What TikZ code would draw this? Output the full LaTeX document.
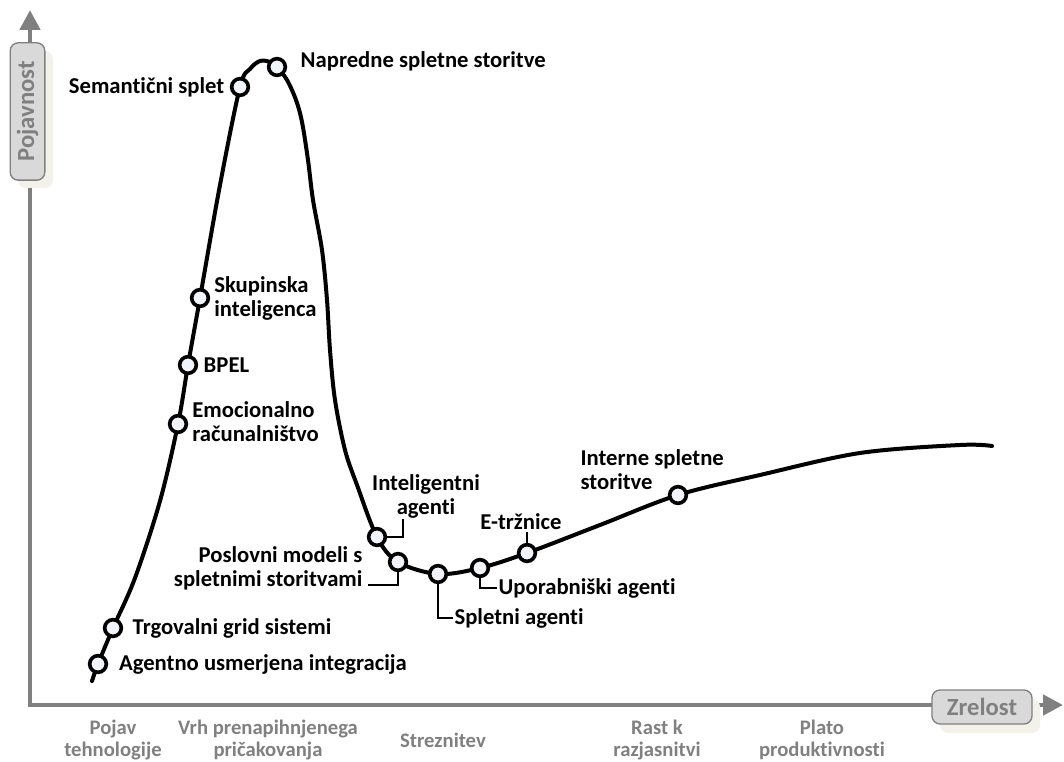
\documentclass[tikz,border=0pt]{standalone}
\usepackage{fontspec}
\setmainfont{Carlito}[Ligatures=NoCommon]
\usepackage{tikz}
\usetikzlibrary{arrows.meta,positioning}
\definecolor{osgray}{HTML}{808080}
\definecolor{boxfill}{HTML}{D9D9D9}
\definecolor{senca}{HTML}{F2F2EA}
\definecolor{tockafill}{HTML}{F2F4FB}
\tikzstyle{krivulja} = [line width=3pt, line cap=round, line join=round]
\tikzstyle{tocka} = [circle, draw=black, fill=tockafill, line width=2.7pt, minimum size=12.5pt, inner sep=0pt]
\tikzstyle{oznaka} = [font=\fontsize{17}{18}\selectfont\bfseries, inner sep=1pt, align=left]
\tikzstyle{vodilo} = [line width=1.6pt]
\tikzstyle{faza} = [font=\fontsize{15.5}{16}\selectfont\bfseries, text=osgray, align=center]
\tikzstyle{os} = [draw=osgray, line width=3.5pt, line join=miter, {Triangle[length=15pt,width=15pt]}-{Triangle[length=15pt,width=15pt]}]
\tikzstyle{osbox} = [draw=osgray, fill=boxfill, line width=1pt, rounded corners=6pt, text=osgray, font=\fontsize{18.5}{20}\selectfont\bfseries, inner sep=0pt]

\begin{document}
\begin{tikzpicture}[x=0.75pt, y=-0.75pt]
\useasboundingbox (0,0) rectangle (1064,762);

% osi
\coordinate (ytop) at (30,10);
\coordinate (O) at (30,705);
\coordinate (xend) at (1063,705);
\draw[os] (ytop) -- (O) -- (xend);
\fill[senca, rounded corners=6pt] (18,51) rectangle (53,188);
\fill[senca, rounded corners=6pt] (940,699) rectangle (1040,733);
\node[osbox, minimum width=103pt, minimum height=26pt, rotate=90] (pojavnost) at (27.5,111.5) {Pojavnost};
\node[osbox, minimum width=75pt, minimum height=25.5pt] (zrelost) at (982,707) {Zrelost};

% faze
\node[faza] (faza1) at (113,740) {Pojav\\tehnologije};
\node[faza] (faza2) at (268,740) {Vrh prenapihnjenega\\pričakovanja};
\node[faza] (faza3) at (443,740) {Streznitev};
\node[faza] (faza4) at (657,740) {Rast k\\razjasnitvi};
\node[faza] (faza5) at (822,740) {Plato\\produktivnosti};

% krivulja
\draw[krivulja] plot[smooth, tension=0.55] coordinates {
  (92,681) (98,664) (113,628) (135,578) (160,501) (178,424) (188,365)
  (200,298) (220,185) (240,87) (250,69) (260,61) (270,62) (277,67)
  (287,80) (296,100) (302,122) (308,160) (313,200) (322,250) (327,300)
  (330,350) (335,400) (345,450) (357,485) (377,537) (398,562) (438,574)
  (480,568) (527,553) (600,525) (678,495) (760,475) (860,453) (960,445)
  (992,446)};

% tocke
\node[tocka] (agentno) at (98,664) {};
\node[tocka] (trgovalni) at (113,628) {};
\node[tocka] (emocionalno) at (178,424) {};
\node[tocka] (bpel) at (188,365) {};
\node[tocka] (skupinska) at (200,298) {};
\node[tocka] (semanticni) at (240,87) {};
\node[tocka] (napredne) at (277,67) {};
\node[tocka] (inteligentni) at (377,537) {};
\node[tocka] (poslovni) at (398,562) {};
\node[tocka] (spletni) at (438,574) {};
\node[tocka] (uporabniski) at (480,568) {};
\node[tocka] (etrznice) at (527,553) {};
\node[tocka] (interne) at (678,495) {};

% oznake
\node[oznaka, right=7pt of agentno] {Agentno usmerjena integracija};
\node[oznaka, right=6pt of trgovalni] {Trgovalni grid sistemi};
\node[oznaka, right=2pt of emocionalno, yshift=2pt] {Emocionalno\\računalništvo};
\node[oznaka, right=3pt of bpel] {BPEL};
\node[oznaka, right=2pt of skupinska] {Skupinska\\inteligenca};
\node[oznaka, left=3pt of semanticni] {Semantični splet};
\node[oznaka, right=9pt of napredne, yshift=4pt] {Napredne spletne storitve};
\node[oznaka, anchor=west] (internelbl) at (579,470) {Interne spletne\\storitve};
\node[oznaka, align=center] (inteligentnilbl) at (426,496) {Inteligentni\\agenti};
\node[oznaka, align=right, anchor=east] (poslovnilbl) at (364,568) {Poslovni modeli s\\spletnimi storitvami};
\node[oznaka, anchor=west] (spletnilbl) at (453,618) {Spletni agenti};
\node[oznaka, anchor=west] (uporabniskilbl) at (497,588) {Uporabniški agenti};
\node[oznaka] (etrznicelbl) at (521,522) {E-tržnice};

% vodila
\draw[vodilo] (inteligentni.east) -| ([xshift=-17pt]inteligentnilbl.south);
\draw[vodilo] (poslovni.south) |- ([xshift=3pt,yshift=-13pt]poslovnilbl.east);
\draw[vodilo] (spletni.south) |- (spletnilbl.west);
\draw[vodilo] (uporabniski.south) |- (uporabniskilbl.west);
\draw[vodilo] (etrznice.north) -- (etrznice.north |- etrznicelbl.south);
\end{tikzpicture}
\end{document}
